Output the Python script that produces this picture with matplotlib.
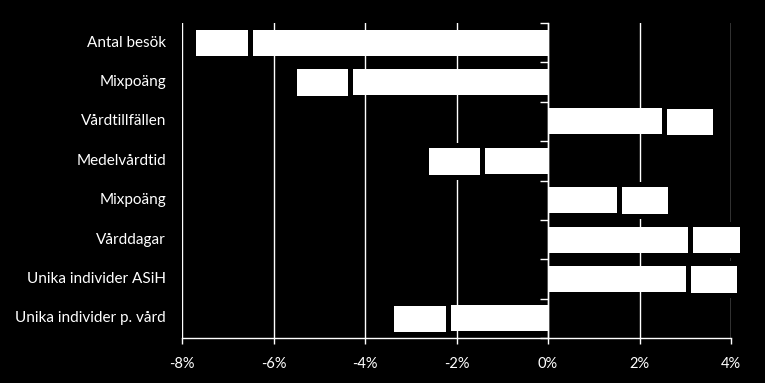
import matplotlib
matplotlib.use("Agg")
import matplotlib.pyplot as plt
from matplotlib.ticker import FuncFormatter

categories = ["Antal besök", "Mixpoäng", "Vårdtillfällen", "Medelvårdtid",
              "Mixpoäng", "Vårddagar", "Unika individer ASiH", "Unika individer p. vård"]
seg1 = [-6.52, -4.32, 2.54, -1.45, 1.55, 3.11, 3.06, -2.19]
seg2 = [-1.23, -1.24, 1.12, -1.22, 1.11, 1.12, 1.11, -1.25]
xticks = [-8, -6, -4, -2, 0, 2, 4]

plt.rcParams['font.family'] = ['Lato', 'DejaVu Sans']

fig = plt.figure(figsize=(7.65, 3.83), dpi=100, facecolor='black')
ax = fig.add_axes([182/765, 1-338/383, (731-182)/765, (338-23)/383])
ax.set_facecolor('black')

y = list(range(len(categories)))
lw = 3.6
ax.barh(y, seg1, height=0.66, color='white', linewidth=0, zorder=3, clip_on=False)
ax.barh(y, seg2, left=seg1, height=0.8, color='white', edgecolor='black', linewidth=lw, zorder=4, clip_on=False)

ax.set_xlim(-8, 4)
ax.set_ylim(len(categories)-0.5, -0.5)

ax.set_xticks(xticks)
ax.xaxis.set_major_formatter(FuncFormatter(lambda v, p: f"{v:.0f}%"))
ax.grid(axis='x', color='white', linewidth=1.0, zorder=1)
ax.grid(axis='y', visible=False)
ax.tick_params(axis='x', colors='white', labelsize=10.5, length=4, width=1.0, pad=10, direction='out')

# y axis at zero with ticks at category boundaries
ax.spines['left'].set_position(('data', 0))
ax.spines['left'].set_color('white')
ax.spines['left'].set_linewidth(1.0)
ax.spines['left'].set_zorder(5)
ax.set_yticks([i - 0.5 for i in range(len(categories)+1)])
ax.set_yticklabels([])
ax.tick_params(axis='y', colors='white', length=6, width=1.0, direction='out')
for s in ['top', 'right']:
    ax.spines[s].set_visible(False)
ax.spines['bottom'].set_color('white')
ax.spines['bottom'].set_linewidth(1.0)

tr = ax.get_yaxis_transform()
for i, c in enumerate(categories):
    ax.text(-16/549, i, c, transform=tr, ha='right', va='center', color='white', fontsize=11)

fig.savefig("out.png", dpi=100, facecolor='black')
